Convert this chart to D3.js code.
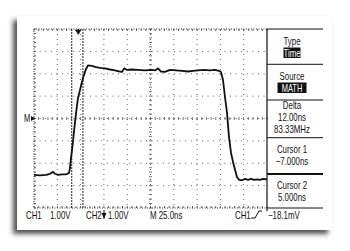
<!DOCTYPE html>
<html>
<head>
<meta charset="utf-8">
<script src="https://cdn.jsdelivr.net/npm/d3@7"></script>
<style>
  html, body { margin: 0; padding: 0; background: #fff; }
  svg text { font-family: "Liberation Sans", Arial, sans-serif; fill: #111; }
</style>
</head>
<body>
<div id="chart"></div>
<script>
// waveform, time in ns relative to trigger, level in divisions (1.00V/div)
const times = [-47.5, -41.1, -34.6, -30.3, -27.1, -25, -21.7, -17.5, -13.2, -9.9, -8.9, -7.8, -6.7, -5.7, -3.5, -1.4, -0.3, 1.9, 4, 6.1, 8.3, 10.4, 14.7, 19, 23.3, 28.7, 34, 39.4, 44.8, 46.9, 49.1, 52.3, 57.7, 64.1, 71.6, 79.1, 82.3, 85.5, 88.8, 93.1, 98.5, 104.9, 111.3, 117.7, 123.1, 128.5, 134.9, 141.3, 146.7, 151, 153.1, 155.3, 157.4, 159.6, 161.7, 163.9, 166, 168.2, 170.3, 172.5, 175.7, 178.9, 182.2, 185.4, 188.6, 191.8, 195.1, 198.3, 202.5];
const volts = [-2.52, -2.54, -2.52, -2.47, -2.38, -2.47, -2.52, -2.5, -2.5, -2.43, -2.2, -1.76, -1.4, -1.04, -0.15, 0.56, 0.92, 1.28, 1.63, 1.95, 2.21, 2.37, 2.35, 2.3, 2.26, 2.24, 2.19, 2.15, 2.1, 2.08, 2.24, 2.17, 2.19, 2.17, 2.15, 2.17, 2.15, 2.24, 2.1, 2.08, 2.17, 2.15, 2.13, 2.1, 2.13, 2.15, 2.17, 2.15, 2.17, 2.13, 2.08, 1.72, 0.96, 0.25, -0.82, -1.54, -1.94, -2.29, -2.61, -2.74, -2.76, -2.7, -2.74, -2.7, -2.74, -2.72, -2.74, -2.7, -2.72];

const timeDomain = [-47.5, 202.5]; // 10 div x 25.0ns
const voltDomain = [-4, 4];        // 8 div
const cursors = [-7, 5];

const menuTitles = ["Type", "Source", "Delta", "Cursor 1", "Cursor 2"];
const menuValues = [["Time"], ["MATH"], ["12.00ns", "83.33MHz"], ["\u22127.000ns"], ["5.000ns"]];
const bottomLabels = ["CH1", "1.00V", "CH2", "1.00V", "M 25.0ns", "CH1", "\u221218.1mV"];

const W = 350, H = 251;
const svg = d3.select('#chart').append('svg')
    .attr('width', W)
    .attr('height', H);

// condensed text like the scope font
function label(sel, tx, ty, str, anchor, size) {
    return sel.append('text')
        .attr('transform', `translate(${tx},${ty}) scale(0.75,1)`)
        .attr('text-anchor', anchor || 'start')
        .attr('font-size', (size || 10.5) + 'px')
        .text(str);
}

// card with shadow
const defs = svg.append('defs');
const f = defs.append('filter').attr('id', 'shadow')
    .attr('x', '-10%').attr('y', '-10%').attr('width', '120%').attr('height', '125%');
f.append('feDropShadow')
    .attr('dx', -4).attr('dy', 4)
    .attr('stdDeviation', 2.5)
    .attr('flood-color', '#333')
    .attr('flood-opacity', 0.85);

svg.append('rect')
    .attr('x', 17).attr('y', 16)
    .attr('width', 315).attr('height', 214)
    .attr('fill', '#fff')
    .attr('filter', 'url(#shadow)');

const x = d3.scaleLinear().domain(timeDomain).range([34, 267]);
const y = d3.scaleLinear().domain(voltDomain).range([208, 29]);

const g = svg.append('g');

// grid
const vLines = d3.range(1, 10).map(i => timeDomain[0] + i * 25);
const hLines = d3.range(-3, 4);

g.selectAll('.vgrid').data(vLines).enter().append('line')
    .attr('x1', d => x(d)).attr('x2', d => x(d))
    .attr('y1', y(4)).attr('y2', y(-4))
    .attr('stroke', '#666').attr('stroke-width', 1)
    .attr('stroke-dasharray', '1,4');

g.selectAll('.hgrid').data(hLines).enter().append('line')
    .attr('x1', x(timeDomain[0])).attr('x2', x(timeDomain[1]))
    .attr('y1', d => y(d)).attr('y2', d => y(d))
    .attr('stroke', '#666').attr('stroke-width', 1)
    .attr('stroke-dasharray', '1,4.6');

// center axes minor ticks
const xMid = timeDomain[0] + 125;
const minorT = d3.range(0, 51).map(i => timeDomain[0] + i * 5);
g.selectAll('.mt').data(minorT).enter().append('line')
    .attr('x1', d => x(d)).attr('x2', d => x(d))
    .attr('y1', y(0) - 1.5).attr('y2', y(0) + 1.5)
    .attr('stroke', '#555').attr('stroke-width', 0.8);
const minorV = d3.range(0, 41).map(i => -4 + i * 0.2);
g.selectAll('.mv').data(minorV).enter().append('line')
    .attr('x1', x(xMid) - 1.5).attr('x2', x(xMid) + 1.5)
    .attr('y1', d => y(d)).attr('y2', d => y(d))
    .attr('stroke', '#555').attr('stroke-width', 0.8);

// graticule border
g.append('path')
    .attr('d', `M${x(timeDomain[1])},${y(4)}H${x(timeDomain[0])}V${y(-4)}H${x(timeDomain[1])}`)
    .attr('fill', 'none')
    .attr('stroke', '#333').attr('stroke-width', 1)
    .attr('stroke-dasharray', '1,1.5');
g.selectAll('.bt').data(minorT).enter().append('line')
    .attr('x1', d => x(d)).attr('x2', d => x(d))
    .attr('y1', y(4)).attr('y2', y(4) + 2)
    .attr('stroke', '#333').attr('stroke-width', 0.8);
g.selectAll('.bb').data(minorT).enter().append('line')
    .attr('x1', d => x(d)).attr('x2', d => x(d))
    .attr('y1', y(-4) - 2).attr('y2', y(-4))
    .attr('stroke', '#333').attr('stroke-width', 0.8);
g.selectAll('.bl').data(minorV).enter().append('line')
    .attr('x1', x(timeDomain[0])).attr('x2', x(timeDomain[0]) + 2)
    .attr('y1', d => y(d)).attr('y2', d => y(d))
    .attr('stroke', '#333').attr('stroke-width', 0.8);

// cursors
g.selectAll('.cursor').data(cursors).enter().append('line')
    .attr('x1', d => x(d)).attr('x2', d => x(d))
    .attr('y1', y(4)).attr('y2', y(-4))
    .attr('stroke', '#222').attr('stroke-width', 1)
    .attr('stroke-dasharray', '2,1');

// trigger position marker
g.append('path')
    .attr('d', `M${x(0) - 3},${y(4) + 1}L${x(0) + 3},${y(4) + 1}L${x(0)},${y(4) + 6}Z`)
    .attr('fill', '#111');
g.append('line')
    .attr('x1', x(0)).attr('x2', x(0))
    .attr('y1', y(4)).attr('y2', y(4) + 3)
    .attr('stroke', '#111').attr('stroke-width', 1.5);

// M ground marker
label(svg, 24, y(0) + 3.5, 'M', 'start', 10);
g.append('path')
    .attr('d', `M${x(timeDomain[0]) - 3},${y(0) - 2.5}L${x(timeDomain[0]) + 1},${y(0)}L${x(timeDomain[0]) - 3},${y(0) + 2.5}Z`)
    .attr('fill', '#111');

// waveform
const line = d3.line()
    .x((d, i) => x(times[i]))
    .y(d => y(d));
g.append('path')
    .attr('d', line(volts))
    .attr('fill', 'none')
    .attr('stroke', '#111')
    .attr('stroke-width', 1.8)
    .attr('stroke-linejoin', 'round');

// right menu panel
const px0 = x(timeDomain[1]), px1 = 323;
const sep = [29, 64.3, 100, 137.7, 174, 208];
svg.append('line')
    .attr('x1', px0).attr('x2', px0)
    .attr('y1', sep[0]).attr('y2', 211)
    .attr('stroke', '#111').attr('stroke-width', 1.2);
svg.selectAll('.sep').data(sep).enter().append('line')
    .attr('x1', px0).attr('x2', px1)
    .attr('y1', d => d).attr('y2', d => d)
    .attr('stroke', '#111')
    .attr('stroke-width', (d, i) => i === 4 ? 2 : 1);

const cx = 292;
const titleY = [45, 80, 109, 153, 189];
const boxW = [15, 27];
menuTitles.forEach(function(t, i) {
    label(svg, cx, titleY[i], t, 'middle');
    menuValues[i].forEach(function(v, j) {
        const vy = titleY[i] + 11.5 + j * 12;
        if (i < 2) {
            svg.append('rect')
                .attr('x', cx - boxW[i] / 2 - 1).attr('y', vy - 9)
                .attr('width', boxW[i] + 2).attr('height', 10.5)
                .attr('fill', '#111');
            label(svg, cx, vy, v, 'middle', i === 0 ? 10.5 : 10)
                .style('fill', '#fff');
        } else {
            label(svg, cx, vy, v, 'middle');
        }
    });
});

// bottom readout
const bottomX = [26, 50, 86, 108, 150, 235, 268];
bottomLabels.forEach(function(t, i) {
    label(svg, bottomX[i], 219, t);
});
// CH2 ground arrow
svg.append('path')
    .attr('d', 'M101.5,213L106.5,213L104,218.5Z')
    .attr('fill', '#111');
svg.append('line')
    .attr('x1', 104).attr('x2', 104).attr('y1', 210).attr('y2', 219)
    .attr('stroke', '#111').attr('stroke-width', 1);
// trigger slope symbol
svg.append('path')
    .attr('d', 'M251,218L255,218L259,211L262,211')
    .attr('fill', 'none')
    .attr('stroke', '#111').attr('stroke-width', 1);
</script>
</body>
</html>
